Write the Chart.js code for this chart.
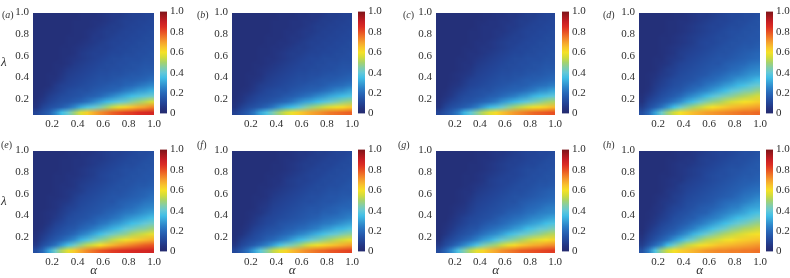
<!DOCTYPE html>
<html>
<head>
<meta charset="utf-8">
<script src="https://cdn.jsdelivr.net/npm/chart.js@4.4.0/dist/chart.umd.min.js"></script>
<style>
  body { margin: 0; background: #fff; width: 790px; height: 278px; overflow: hidden; position: relative;
         font-family: "Liberation Serif", serif; color: #333; }
  canvas { position: absolute; }
  .tag { position: absolute; font-size: 10px; line-height: 10px; white-space: nowrap; }
  .lam { position: absolute; font-size: 13px; line-height: 13px; font-style: italic; }
</style>
</head>
<body>
<script>
// grid cell centres (alpha across, lambda up), step 0.05
const alphaCenters = [0.075,0.125,0.175,0.225,0.275,0.325,0.375,0.425,0.475,0.525,0.575,0.625,0.675,0.725,0.775,0.825,0.875,0.925,0.975];
const lambdaCenters = [0.075,0.125,0.175,0.225,0.275,0.325,0.375,0.425,0.475,0.525,0.575,0.625,0.675,0.725,0.775,0.825,0.875,0.925,0.975];
const xTicks = [0.2, 0.4, 0.6, 0.8, 1.0];
const yTicks = [0.2, 0.4, 0.6, 0.8, 1.0];
const barTicks = [0, 0.2, 0.4, 0.6, 0.8, 1.0];
const panelNames = ['a', 'b', 'c', 'd', 'e', 'f', 'g', 'h'];

// values, one row per lambda (bottom row first)
const panelA = [
  [0.10,0.14,0.18,0.26,0.35,0.41,0.49,0.57,0.63,0.68,0.72,0.75,0.78,0.80,0.82,0.83,0.85,0.86,0.87],
  [0.05,0.10,0.13,0.15,0.17,0.21,0.26,0.32,0.37,0.40,0.44,0.49,0.54,0.58,0.62,0.65,0.68,0.70,0.73],
  [0.04,0.07,0.10,0.12,0.14,0.15,0.17,0.19,0.22,0.26,0.30,0.34,0.37,0.40,0.42,0.46,0.49,0.52,0.56],
  [0.03,0.05,0.08,0.10,0.12,0.13,0.14,0.15,0.17,0.18,0.20,0.23,0.26,0.29,0.32,0.35,0.37,0.39,0.41],
  [0.03,0.04,0.06,0.08,0.10,0.12,0.13,0.14,0.14,0.16,0.17,0.18,0.19,0.21,0.24,0.26,0.29,0.30,0.33],
  [0.03,0.03,0.04,0.07,0.09,0.10,0.11,0.12,0.13,0.14,0.15,0.16,0.17,0.17,0.19,0.20,0.22,0.24,0.26],
  [0.03,0.03,0.04,0.05,0.07,0.09,0.10,0.11,0.12,0.13,0.14,0.14,0.15,0.16,0.17,0.17,0.18,0.19,0.21],
  [0.03,0.03,0.04,0.04,0.06,0.08,0.09,0.10,0.11,0.12,0.13,0.13,0.14,0.14,0.15,0.16,0.16,0.17,0.18],
  [0.03,0.03,0.03,0.04,0.05,0.07,0.08,0.09,0.10,0.11,0.12,0.12,0.13,0.13,0.14,0.14,0.15,0.16,0.16],
  [0.03,0.03,0.03,0.04,0.04,0.05,0.07,0.08,0.09,0.10,0.11,0.12,0.12,0.13,0.13,0.14,0.14,0.15,0.15],
  [0.03,0.03,0.03,0.03,0.04,0.05,0.06,0.07,0.08,0.09,0.10,0.11,0.12,0.12,0.13,0.13,0.13,0.14,0.14],
  [0.03,0.03,0.03,0.03,0.04,0.04,0.05,0.07,0.08,0.09,0.09,0.10,0.11,0.11,0.12,0.12,0.13,0.13,0.14],
  [0.03,0.03,0.03,0.03,0.04,0.04,0.05,0.06,0.07,0.08,0.09,0.09,0.10,0.11,0.11,0.12,0.12,0.13,0.13],
  [0.03,0.03,0.03,0.03,0.03,0.04,0.04,0.05,0.06,0.07,0.08,0.09,0.10,0.10,0.11,0.11,0.12,0.12,0.13],
  [0.03,0.03,0.03,0.03,0.03,0.04,0.04,0.04,0.05,0.07,0.07,0.08,0.09,0.10,0.10,0.11,0.11,0.12,0.12],
  [0.03,0.03,0.03,0.03,0.03,0.03,0.04,0.04,0.05,0.06,0.07,0.08,0.08,0.09,0.10,0.10,0.11,0.11,0.12],
  [0.03,0.03,0.03,0.03,0.03,0.03,0.04,0.04,0.04,0.05,0.06,0.07,0.08,0.08,0.09,0.10,0.10,0.11,0.11],
  [0.03,0.03,0.03,0.03,0.03,0.03,0.04,0.04,0.04,0.05,0.05,0.06,0.07,0.08,0.09,0.09,0.10,0.10,0.11],
  [0.03,0.03,0.03,0.03,0.03,0.03,0.03,0.04,0.04,0.04,0.05,0.06,0.07,0.07,0.08,0.09,0.09,0.10,0.10]
];
const panelB = [
  [0.09,0.13,0.17,0.23,0.31,0.37,0.44,0.50,0.55,0.59,0.63,0.66,0.69,0.71,0.73,0.75,0.76,0.77,0.78],
  [0.05,0.09,0.12,0.14,0.16,0.19,0.23,0.28,0.32,0.35,0.39,0.44,0.48,0.51,0.54,0.57,0.59,0.61,0.64],
  [0.04,0.06,0.09,0.11,0.13,0.14,0.16,0.18,0.20,0.23,0.27,0.30,0.32,0.35,0.38,0.41,0.44,0.47,0.49],
  [0.03,0.05,0.07,0.09,0.11,0.12,0.13,0.14,0.16,0.17,0.19,0.21,0.23,0.26,0.28,0.31,0.33,0.35,0.37],
  [0.03,0.04,0.05,0.07,0.09,0.11,0.12,0.13,0.13,0.15,0.16,0.17,0.18,0.19,0.21,0.23,0.26,0.27,0.30],
  [0.03,0.03,0.04,0.06,0.08,0.09,0.10,0.11,0.12,0.13,0.14,0.15,0.16,0.16,0.17,0.19,0.20,0.21,0.23],
  [0.03,0.03,0.04,0.05,0.06,0.08,0.09,0.10,0.11,0.12,0.13,0.13,0.14,0.15,0.16,0.16,0.17,0.18,0.19],
  [0.03,0.03,0.04,0.04,0.05,0.07,0.08,0.09,0.10,0.11,0.12,0.12,0.13,0.13,0.14,0.15,0.15,0.16,0.17],
  [0.03,0.03,0.03,0.04,0.05,0.06,0.07,0.08,0.09,0.10,0.11,0.11,0.12,0.12,0.13,0.13,0.14,0.15,0.15],
  [0.03,0.03,0.03,0.04,0.04,0.05,0.06,0.07,0.08,0.09,0.10,0.11,0.11,0.12,0.12,0.13,0.13,0.14,0.14],
  [0.03,0.03,0.03,0.03,0.04,0.05,0.05,0.06,0.07,0.08,0.09,0.10,0.11,0.11,0.12,0.12,0.12,0.13,0.13],
  [0.03,0.03,0.03,0.03,0.04,0.04,0.05,0.06,0.07,0.08,0.08,0.09,0.10,0.10,0.11,0.11,0.12,0.12,0.13],
  [0.03,0.03,0.03,0.03,0.04,0.04,0.05,0.05,0.06,0.07,0.08,0.08,0.09,0.10,0.10,0.11,0.11,0.12,0.12],
  [0.03,0.03,0.03,0.03,0.03,0.04,0.04,0.05,0.05,0.06,0.07,0.08,0.09,0.09,0.10,0.10,0.11,0.11,0.12],
  [0.03,0.03,0.03,0.03,0.03,0.04,0.04,0.04,0.05,0.06,0.06,0.07,0.08,0.09,0.09,0.10,0.10,0.11,0.11],
  [0.03,0.03,0.03,0.03,0.03,0.03,0.04,0.04,0.05,0.05,0.06,0.07,0.07,0.08,0.09,0.09,0.10,0.10,0.11],
  [0.03,0.03,0.03,0.03,0.03,0.03,0.04,0.04,0.04,0.05,0.05,0.06,0.07,0.08,0.08,0.09,0.09,0.10,0.10],
  [0.03,0.03,0.03,0.03,0.03,0.03,0.04,0.04,0.04,0.05,0.05,0.06,0.06,0.07,0.08,0.08,0.09,0.09,0.10],
  [0.03,0.03,0.03,0.03,0.03,0.03,0.03,0.04,0.04,0.04,0.05,0.05,0.06,0.06,0.07,0.08,0.08,0.09,0.09]
];
const panelC = [
  [0.10,0.14,0.18,0.24,0.33,0.39,0.46,0.52,0.57,0.61,0.65,0.68,0.71,0.73,0.75,0.77,0.78,0.79,0.80],
  [0.05,0.10,0.13,0.15,0.17,0.20,0.24,0.29,0.34,0.37,0.41,0.46,0.50,0.53,0.56,0.59,0.61,0.63,0.66],
  [0.04,0.07,0.10,0.12,0.14,0.15,0.17,0.19,0.21,0.24,0.28,0.31,0.34,0.37,0.40,0.43,0.46,0.49,0.51],
  [0.03,0.05,0.07,0.10,0.12,0.13,0.14,0.15,0.17,0.18,0.20,0.22,0.24,0.27,0.29,0.33,0.35,0.37,0.39],
  [0.03,0.04,0.06,0.08,0.10,0.12,0.13,0.14,0.14,0.16,0.17,0.18,0.19,0.20,0.22,0.24,0.27,0.28,0.31],
  [0.03,0.03,0.05,0.06,0.08,0.10,0.11,0.12,0.13,0.14,0.15,0.16,0.17,0.17,0.18,0.20,0.21,0.22,0.24],
  [0.03,0.03,0.04,0.05,0.07,0.09,0.10,0.11,0.12,0.13,0.14,0.14,0.15,0.16,0.17,0.17,0.18,0.19,0.20],
  [0.03,0.03,0.04,0.05,0.06,0.07,0.09,0.10,0.11,0.12,0.13,0.13,0.14,0.14,0.15,0.16,0.16,0.17,0.18],
  [0.03,0.03,0.03,0.04,0.05,0.06,0.08,0.09,0.10,0.11,0.12,0.12,0.13,0.13,0.14,0.14,0.15,0.16,0.16],
  [0.03,0.03,0.03,0.04,0.05,0.05,0.07,0.08,0.09,0.10,0.11,0.12,0.12,0.13,0.13,0.14,0.14,0.15,0.15],
  [0.03,0.03,0.03,0.04,0.04,0.05,0.06,0.07,0.08,0.09,0.10,0.11,0.12,0.12,0.13,0.13,0.13,0.14,0.14],
  [0.03,0.03,0.03,0.03,0.04,0.05,0.05,0.06,0.07,0.08,0.09,0.10,0.11,0.11,0.12,0.12,0.13,0.13,0.14],
  [0.03,0.03,0.03,0.03,0.04,0.04,0.05,0.06,0.06,0.07,0.08,0.09,0.10,0.11,0.11,0.12,0.12,0.13,0.13],
  [0.03,0.03,0.03,0.03,0.03,0.04,0.05,0.05,0.06,0.07,0.08,0.09,0.09,0.10,0.11,0.11,0.12,0.12,0.13],
  [0.03,0.03,0.03,0.03,0.03,0.04,0.04,0.05,0.05,0.06,0.07,0.08,0.09,0.09,0.10,0.11,0.11,0.12,0.12],
  [0.03,0.03,0.03,0.03,0.03,0.04,0.04,0.05,0.05,0.06,0.06,0.07,0.08,0.09,0.10,0.10,0.11,0.11,0.12],
  [0.03,0.03,0.03,0.03,0.03,0.03,0.04,0.05,0.05,0.05,0.06,0.07,0.07,0.08,0.09,0.10,0.10,0.11,0.11],
  [0.03,0.03,0.03,0.03,0.03,0.03,0.04,0.04,0.05,0.05,0.06,0.06,0.07,0.08,0.08,0.09,0.10,0.10,0.11],
  [0.03,0.03,0.03,0.03,0.03,0.03,0.03,0.04,0.04,0.05,0.05,0.06,0.06,0.07,0.08,0.08,0.09,0.10,0.10]
];
const panelD = [
  [0.13,0.20,0.30,0.41,0.49,0.55,0.60,0.63,0.66,0.68,0.70,0.71,0.72,0.73,0.74,0.75,0.76,0.76,0.77],
  [0.08,0.13,0.17,0.22,0.28,0.35,0.41,0.46,0.50,0.53,0.57,0.60,0.62,0.64,0.66,0.67,0.68,0.69,0.70],
  [0.05,0.10,0.13,0.16,0.19,0.23,0.27,0.32,0.36,0.41,0.45,0.48,0.50,0.53,0.56,0.58,0.60,0.61,0.63],
  [0.04,0.07,0.10,0.13,0.15,0.17,0.20,0.24,0.27,0.30,0.34,0.38,0.41,0.44,0.46,0.49,0.51,0.53,0.55],
  [0.03,0.05,0.08,0.11,0.13,0.15,0.16,0.19,0.21,0.24,0.26,0.29,0.32,0.35,0.39,0.41,0.44,0.45,0.48],
  [0.03,0.04,0.07,0.09,0.11,0.13,0.14,0.16,0.18,0.19,0.22,0.24,0.26,0.29,0.31,0.34,0.36,0.39,0.41],
  [0.03,0.04,0.06,0.08,0.10,0.12,0.13,0.14,0.15,0.17,0.19,0.20,0.22,0.24,0.26,0.29,0.30,0.32,0.35],
  [0.03,0.04,0.05,0.07,0.08,0.10,0.12,0.13,0.14,0.15,0.16,0.18,0.19,0.21,0.23,0.24,0.26,0.28,0.29],
  [0.03,0.03,0.04,0.06,0.08,0.09,0.11,0.12,0.13,0.14,0.15,0.16,0.17,0.18,0.20,0.21,0.23,0.25,0.26],
  [0.03,0.03,0.04,0.05,0.06,0.08,0.10,0.11,0.12,0.13,0.14,0.15,0.15,0.17,0.18,0.19,0.20,0.22,0.23],
  [0.03,0.03,0.04,0.04,0.06,0.07,0.08,0.10,0.11,0.12,0.13,0.14,0.15,0.15,0.16,0.17,0.18,0.19,0.20],
  [0.03,0.03,0.03,0.04,0.05,0.06,0.08,0.09,0.10,0.11,0.12,0.13,0.14,0.14,0.15,0.16,0.17,0.18,0.19],
  [0.03,0.03,0.03,0.04,0.05,0.06,0.07,0.08,0.09,0.10,0.11,0.12,0.13,0.14,0.14,0.15,0.16,0.16,0.17],
  [0.03,0.03,0.03,0.04,0.04,0.05,0.06,0.07,0.08,0.10,0.11,0.11,0.12,0.13,0.14,0.14,0.15,0.15,0.16],
  [0.03,0.03,0.03,0.04,0.04,0.05,0.06,0.07,0.08,0.09,0.10,0.11,0.12,0.12,0.13,0.14,0.14,0.15,0.15],
  [0.03,0.03,0.03,0.03,0.04,0.04,0.05,0.06,0.07,0.08,0.09,0.10,0.11,0.12,0.13,0.13,0.14,0.14,0.15],
  [0.03,0.03,0.03,0.03,0.04,0.04,0.05,0.06,0.07,0.08,0.09,0.10,0.10,0.11,0.12,0.12,0.13,0.14,0.14],
  [0.03,0.03,0.03,0.03,0.04,0.04,0.05,0.05,0.06,0.07,0.08,0.09,0.10,0.10,0.11,0.12,0.12,0.13,0.14],
  [0.03,0.03,0.03,0.03,0.03,0.04,0.04,0.05,0.06,0.07,0.07,0.08,0.09,0.10,0.11,0.11,0.12,0.12,0.13]
];
const panelE = [
  [0.13,0.20,0.31,0.42,0.51,0.58,0.64,0.69,0.73,0.76,0.79,0.81,0.83,0.84,0.85,0.86,0.87,0.87,0.88],
  [0.07,0.13,0.17,0.22,0.29,0.36,0.42,0.48,0.53,0.56,0.60,0.64,0.67,0.70,0.72,0.74,0.76,0.78,0.79],
  [0.05,0.09,0.13,0.16,0.19,0.23,0.27,0.33,0.37,0.42,0.46,0.49,0.53,0.56,0.59,0.62,0.64,0.66,0.68],
  [0.04,0.07,0.10,0.13,0.15,0.17,0.20,0.24,0.27,0.31,0.35,0.39,0.42,0.45,0.47,0.51,0.53,0.55,0.58],
  [0.03,0.05,0.08,0.11,0.13,0.15,0.16,0.19,0.21,0.24,0.27,0.30,0.33,0.36,0.40,0.42,0.45,0.46,0.49],
  [0.03,0.04,0.06,0.09,0.11,0.13,0.14,0.16,0.18,0.19,0.22,0.24,0.27,0.29,0.32,0.35,0.37,0.40,0.42],
  [0.03,0.04,0.05,0.07,0.09,0.12,0.13,0.14,0.15,0.17,0.19,0.20,0.22,0.24,0.27,0.29,0.31,0.33,0.36],
  [0.03,0.04,0.05,0.06,0.08,0.10,0.12,0.13,0.14,0.15,0.16,0.18,0.19,0.21,0.23,0.24,0.26,0.28,0.30],
  [0.03,0.03,0.04,0.05,0.07,0.09,0.10,0.12,0.13,0.14,0.15,0.16,0.17,0.18,0.20,0.21,0.23,0.25,0.26],
  [0.03,0.03,0.04,0.05,0.06,0.07,0.09,0.11,0.12,0.13,0.14,0.15,0.15,0.17,0.18,0.19,0.20,0.22,0.23],
  [0.03,0.03,0.04,0.04,0.05,0.06,0.08,0.10,0.11,0.12,0.13,0.14,0.15,0.15,0.16,0.17,0.18,0.19,0.21],
  [0.03,0.03,0.03,0.04,0.05,0.06,0.07,0.08,0.10,0.11,0.12,0.13,0.14,0.14,0.15,0.16,0.17,0.18,0.19],
  [0.03,0.03,0.03,0.04,0.05,0.05,0.06,0.08,0.09,0.10,0.11,0.12,0.13,0.14,0.14,0.15,0.16,0.16,0.17],
  [0.03,0.03,0.03,0.04,0.04,0.05,0.06,0.07,0.08,0.09,0.10,0.11,0.12,0.13,0.14,0.14,0.15,0.15,0.16],
  [0.03,0.03,0.03,0.04,0.04,0.05,0.05,0.06,0.07,0.08,0.10,0.11,0.12,0.12,0.13,0.14,0.14,0.15,0.15],
  [0.03,0.03,0.03,0.03,0.04,0.04,0.05,0.06,0.07,0.08,0.09,0.10,0.11,0.12,0.13,0.13,0.14,0.14,0.15],
  [0.03,0.03,0.03,0.03,0.04,0.04,0.05,0.05,0.06,0.07,0.08,0.09,0.10,0.11,0.12,0.12,0.13,0.14,0.14],
  [0.03,0.03,0.03,0.03,0.04,0.04,0.05,0.05,0.06,0.07,0.07,0.08,0.09,0.10,0.11,0.12,0.12,0.13,0.14],
  [0.03,0.03,0.03,0.03,0.03,0.04,0.04,0.05,0.05,0.06,0.07,0.08,0.09,0.09,0.10,0.11,0.12,0.12,0.13]
];
const panelF = [
  [0.11,0.16,0.22,0.30,0.39,0.46,0.53,0.58,0.62,0.66,0.69,0.72,0.74,0.76,0.77,0.79,0.80,0.81,0.82],
  [0.06,0.11,0.14,0.17,0.21,0.25,0.30,0.36,0.41,0.44,0.48,0.53,0.57,0.59,0.62,0.64,0.66,0.68,0.70],
  [0.04,0.08,0.11,0.13,0.15,0.18,0.20,0.23,0.26,0.30,0.34,0.37,0.41,0.44,0.47,0.50,0.53,0.55,0.58],
  [0.03,0.05,0.08,0.11,0.13,0.15,0.16,0.18,0.20,0.22,0.25,0.27,0.30,0.33,0.36,0.39,0.41,0.44,0.46],
  [0.03,0.04,0.06,0.09,0.11,0.13,0.14,0.15,0.17,0.18,0.20,0.21,0.23,0.25,0.28,0.30,0.33,0.34,0.37],
  [0.03,0.03,0.05,0.07,0.09,0.11,0.12,0.14,0.15,0.16,0.17,0.18,0.20,0.21,0.23,0.24,0.26,0.28,0.30],
  [0.03,0.03,0.04,0.06,0.08,0.10,0.11,0.12,0.13,0.14,0.15,0.16,0.17,0.18,0.20,0.21,0.22,0.23,0.25],
  [0.03,0.03,0.04,0.05,0.06,0.08,0.10,0.11,0.12,0.13,0.14,0.15,0.16,0.16,0.18,0.18,0.19,0.21,0.22],
  [0.03,0.03,0.03,0.04,0.06,0.07,0.09,0.10,0.11,0.12,0.13,0.14,0.15,0.15,0.16,0.17,0.18,0.19,0.19],
  [0.03,0.03,0.03,0.04,0.05,0.06,0.08,0.09,0.10,0.11,0.12,0.13,0.13,0.14,0.15,0.15,0.16,0.17,0.18],
  [0.03,0.03,0.03,0.04,0.04,0.05,0.07,0.08,0.09,0.10,0.11,0.12,0.13,0.13,0.14,0.15,0.15,0.16,0.16],
  [0.03,0.03,0.03,0.03,0.04,0.05,0.06,0.07,0.08,0.09,0.10,0.11,0.12,0.12,0.13,0.14,0.14,0.15,0.15],
  [0.03,0.03,0.03,0.03,0.04,0.04,0.05,0.06,0.07,0.08,0.09,0.10,0.11,0.12,0.12,0.13,0.13,0.14,0.15],
  [0.03,0.03,0.03,0.03,0.03,0.04,0.05,0.05,0.07,0.08,0.09,0.09,0.10,0.11,0.12,0.12,0.13,0.13,0.14],
  [0.03,0.03,0.03,0.03,0.03,0.04,0.04,0.05,0.06,0.07,0.08,0.09,0.10,0.10,0.11,0.12,0.12,0.13,0.13],
  [0.03,0.03,0.03,0.03,0.03,0.03,0.04,0.04,0.05,0.06,0.07,0.08,0.09,0.10,0.10,0.11,0.12,0.12,0.13],
  [0.03,0.03,0.03,0.03,0.03,0.03,0.04,0.04,0.05,0.06,0.07,0.08,0.08,0.09,0.10,0.10,0.11,0.12,0.12],
  [0.03,0.03,0.03,0.03,0.03,0.03,0.03,0.04,0.05,0.05,0.06,0.07,0.08,0.08,0.09,0.10,0.10,0.11,0.12],
  [0.03,0.03,0.03,0.03,0.03,0.03,0.03,0.04,0.04,0.05,0.06,0.06,0.07,0.08,0.08,0.09,0.10,0.10,0.11]
];
const panelG = [
  [0.12,0.19,0.27,0.37,0.45,0.52,0.58,0.62,0.66,0.69,0.72,0.74,0.76,0.78,0.79,0.80,0.81,0.82,0.83],
  [0.07,0.12,0.16,0.21,0.26,0.31,0.37,0.43,0.47,0.50,0.54,0.58,0.61,0.64,0.66,0.68,0.69,0.71,0.72],
  [0.04,0.09,0.12,0.15,0.18,0.21,0.25,0.29,0.32,0.37,0.41,0.44,0.47,0.50,0.53,0.56,0.58,0.60,0.62],
  [0.03,0.06,0.09,0.12,0.14,0.16,0.19,0.22,0.25,0.27,0.30,0.34,0.37,0.40,0.42,0.45,0.47,0.50,0.52],
  [0.03,0.05,0.07,0.10,0.12,0.14,0.15,0.18,0.20,0.22,0.24,0.26,0.29,0.31,0.35,0.37,0.40,0.41,0.44],
  [0.03,0.04,0.06,0.08,0.10,0.12,0.13,0.15,0.17,0.18,0.20,0.22,0.24,0.26,0.28,0.30,0.32,0.35,0.37],
  [0.03,0.03,0.05,0.07,0.09,0.11,0.12,0.13,0.14,0.16,0.18,0.19,0.21,0.22,0.24,0.26,0.27,0.29,0.31],
  [0.03,0.03,0.04,0.06,0.07,0.09,0.11,0.12,0.13,0.14,0.15,0.17,0.18,0.19,0.21,0.22,0.24,0.25,0.26],
  [0.03,0.03,0.04,0.05,0.06,0.08,0.10,0.11,0.12,0.13,0.14,0.15,0.16,0.17,0.19,0.20,0.21,0.23,0.24],
  [0.03,0.03,0.03,0.04,0.05,0.07,0.09,0.10,0.11,0.12,0.13,0.14,0.14,0.16,0.17,0.18,0.19,0.20,0.21],
  [0.03,0.03,0.03,0.04,0.05,0.06,0.08,0.09,0.10,0.11,0.12,0.13,0.14,0.14,0.15,0.16,0.17,0.18,0.19],
  [0.03,0.03,0.03,0.04,0.05,0.05,0.07,0.08,0.09,0.10,0.11,0.12,0.13,0.13,0.14,0.15,0.16,0.17,0.18],
  [0.03,0.03,0.03,0.03,0.04,0.05,0.06,0.07,0.08,0.09,0.10,0.11,0.12,0.13,0.13,0.14,0.15,0.15,0.16],
  [0.03,0.03,0.03,0.03,0.04,0.04,0.05,0.06,0.08,0.09,0.10,0.10,0.11,0.12,0.13,0.13,0.14,0.14,0.15],
  [0.03,0.03,0.03,0.03,0.04,0.04,0.05,0.06,0.07,0.08,0.09,0.10,0.10,0.11,0.12,0.13,0.13,0.14,0.14],
  [0.03,0.03,0.03,0.03,0.03,0.04,0.04,0.05,0.06,0.07,0.08,0.09,0.10,0.11,0.12,0.12,0.13,0.13,0.14],
  [0.03,0.03,0.03,0.03,0.03,0.04,0.04,0.05,0.06,0.07,0.08,0.09,0.09,0.10,0.11,0.11,0.12,0.13,0.13],
  [0.03,0.03,0.03,0.03,0.03,0.03,0.04,0.05,0.05,0.06,0.07,0.08,0.09,0.09,0.10,0.11,0.11,0.12,0.13],
  [0.03,0.03,0.03,0.03,0.03,0.03,0.04,0.04,0.05,0.06,0.06,0.07,0.08,0.09,0.10,0.10,0.11,0.11,0.12]
];
const panelH = [
  [0.14,0.24,0.37,0.48,0.55,0.60,0.63,0.65,0.67,0.69,0.71,0.72,0.73,0.73,0.74,0.74,0.75,0.75,0.76],
  [0.08,0.14,0.20,0.26,0.35,0.42,0.48,0.53,0.56,0.59,0.61,0.63,0.65,0.66,0.67,0.68,0.69,0.70,0.71],
  [0.06,0.10,0.14,0.18,0.22,0.28,0.33,0.39,0.43,0.48,0.52,0.54,0.56,0.59,0.60,0.62,0.63,0.64,0.65],
  [0.04,0.08,0.11,0.14,0.17,0.20,0.24,0.28,0.33,0.37,0.41,0.45,0.48,0.51,0.53,0.55,0.57,0.59,0.60],
  [0.03,0.06,0.09,0.12,0.14,0.16,0.19,0.22,0.25,0.29,0.32,0.36,0.39,0.42,0.46,0.48,0.51,0.52,0.54],
  [0.03,0.05,0.07,0.10,0.12,0.14,0.16,0.18,0.21,0.23,0.26,0.29,0.32,0.35,0.38,0.41,0.43,0.46,0.48],
  [0.03,0.04,0.06,0.08,0.10,0.13,0.14,0.16,0.17,0.20,0.22,0.24,0.26,0.29,0.32,0.35,0.37,0.39,0.42],
  [0.03,0.04,0.05,0.07,0.09,0.11,0.13,0.14,0.16,0.17,0.18,0.21,0.23,0.25,0.27,0.29,0.31,0.34,0.36],
  [0.03,0.03,0.05,0.06,0.08,0.10,0.11,0.13,0.14,0.16,0.17,0.18,0.20,0.22,0.24,0.25,0.28,0.30,0.31],
  [0.03,0.03,0.04,0.06,0.07,0.08,0.10,0.12,0.13,0.14,0.15,0.16,0.18,0.20,0.21,0.22,0.24,0.26,0.28],
  [0.03,0.03,0.04,0.05,0.06,0.08,0.09,0.11,0.12,0.13,0.14,0.15,0.16,0.17,0.18,0.20,0.22,0.23,0.25],
  [0.03,0.03,0.03,0.04,0.06,0.07,0.08,0.10,0.11,0.12,0.13,0.14,0.15,0.16,0.17,0.18,0.20,0.21,0.22],
  [0.03,0.03,0.03,0.04,0.05,0.06,0.08,0.09,0.10,0.11,0.12,0.13,0.14,0.15,0.16,0.17,0.18,0.19,0.20],
  [0.03,0.03,0.03,0.04,0.05,0.06,0.06,0.08,0.09,0.10,0.11,0.12,0.13,0.14,0.15,0.16,0.17,0.17,0.18],
  [0.03,0.03,0.03,0.04,0.04,0.05,0.06,0.07,0.08,0.09,0.11,0.12,0.13,0.13,0.14,0.15,0.16,0.16,0.17],
  [0.03,0.03,0.03,0.03,0.04,0.05,0.06,0.07,0.08,0.09,0.10,0.11,0.12,0.13,0.14,0.14,0.15,0.16,0.16],
  [0.03,0.03,0.03,0.03,0.04,0.05,0.06,0.06,0.07,0.08,0.09,0.10,0.11,0.12,0.13,0.13,0.14,0.15,0.16],
  [0.03,0.03,0.03,0.03,0.04,0.04,0.05,0.06,0.06,0.08,0.09,0.09,0.10,0.11,0.12,0.13,0.13,0.14,0.15],
  [0.03,0.03,0.03,0.03,0.03,0.04,0.05,0.05,0.06,0.07,0.08,0.09,0.10,0.10,0.11,0.12,0.13,0.13,0.14]
];
const panels = [panelA, panelB, panelC, panelD, panelE, panelF, panelG, panelH];

// colour scale of the colour bars
const cmapStops = [0, 0.05, 0.1, 0.15, 0.2, 0.25, 0.3, 0.35, 0.4, 0.45, 0.5, 0.55, 0.6, 0.65, 0.7, 0.75, 0.8, 0.85, 0.9, 0.95, 1];
const cmapColors = [
  [36,42,110],[36,52,128],[35,68,150],[37,85,168],[40,105,185],[45,130,200],[55,160,215],[65,190,230],
  [100,200,215],[130,205,170],[165,210,110],[210,220,60],[245,225,40],[248,195,45],[245,160,45],
  [240,120,40],[232,80,35],[220,45,35],[200,30,35],[165,25,30],[125,20,25]
];

function rgbFor(v) {
  v = Math.max(0, Math.min(1, v));
  let k = 0;
  while (k < cmapStops.length - 2 && v > cmapStops[k + 1]) k++;
  const t = (v - cmapStops[k]) / (cmapStops[k + 1] - cmapStops[k]);
  const a = cmapColors[k], b = cmapColors[k + 1];
  return a.map((ch, n) => Math.round(ch + (b[n] - ch) * t));
}
function colorFor(v) {
  const c = rgbFor(v);
  return `rgb(${c[0]},${c[1]},${c[2]})`;
}

// page layout
const plotLeft = [33, 232, 436, 639];
const plotWidth = [123, 122, 121, 123];
const barLeft = [160, 358, 562, 766];
const barWidth = 7;
const plotTop = [10, 148];
const plotHeight = 105;
const tagPos = [[2, 10], [197, 10], [403, 10], [603, 10], [1, 140], [197, 140], [398, 140], [603, 140]];
const lamPos = [[1, 55], [1, 194]];

const textColor = '#2e2e2e';
const serif = '"Liberation Serif", "Times New Roman", serif';
const tickFont = { family: serif, size: 11 };
const fmt = v => v === 0 ? '0' : v.toFixed(1);

function addCanvas(left, top, w, h) {
  const c = document.createElement('canvas');
  c.width = w; c.height = h;
  c.style.left = left + 'px'; c.style.top = top + 'px';
  document.body.appendChild(c);
  return c;
}

panels.forEach((grid, p) => {
  const col = p % 4, row = Math.floor(p / 4);
  const L = plotLeft[col], W = plotWidth[col], T = plotTop[row], H = plotHeight;
  const axisW = 30, axisH = row === 0 ? 20 : 25;

  // small bitmap, one pixel per grid cell, top row = highest lambda
  const nx = alphaCenters.length, ny = lambdaCenters.length;
  const img = document.createElement('canvas');
  img.width = nx; img.height = ny;
  const ictx = img.getContext('2d');
  const id = ictx.createImageData(nx, ny);
  grid.forEach((vals, j) => vals.forEach((v, i) => {
    const c = rgbFor(v), o = ((ny - 1 - j) * nx + i) * 4;
    id.data[o] = c[0]; id.data[o + 1] = c[1]; id.data[o + 2] = c[2]; id.data[o + 3] = 255;
  }));
  ictx.putImageData(id, 0, 0);

  const heat = {
    id: 'heat' + p,
    beforeDatasetsDraw(chart) {
      const { ctx, chartArea: a, scales: { x, y } } = chart;
      ctx.save();
      ctx.beginPath();
      ctx.rect(a.left, a.top, a.right - a.left, a.bottom - a.top);
      ctx.clip();
      // cells
      grid.forEach((vals, j) => {
        const yb = Math.round(y.getPixelForValue(lambdaCenters[j] - 0.025));
        const yt = Math.round(y.getPixelForValue(lambdaCenters[j] + 0.025));
        vals.forEach((v, i) => {
          const xl = Math.round(x.getPixelForValue(alphaCenters[i] - 0.025));
          const xr = Math.round(x.getPixelForValue(alphaCenters[i] + 0.025));
          ctx.fillStyle = colorFor(v);
          ctx.fillRect(xl, yt, xr - xl, yb - yt);
        });
      });
      // shaded on top, same cell placement
      const x0 = x.getPixelForValue(alphaCenters[0] - 0.025);
      const x1 = x.getPixelForValue(alphaCenters[nx - 1] + 0.025);
      const y0 = y.getPixelForValue(lambdaCenters[ny - 1] + 0.025);
      const y1 = y.getPixelForValue(lambdaCenters[0] - 0.025);
      ctx.imageSmoothingEnabled = true;
      ctx.imageSmoothingQuality = 'low';
      ctx.drawImage(img, x0, y0, x1 - x0, y1 - y0);
      ctx.restore();
    }
  };

  const cv = addCanvas(L - axisW, T - 8, axisW + W + 8, 8 + H + axisH);
  new Chart(cv, {
    type: 'scatter',
    data: { datasets: [] },
    options: {
      responsive: false,
      animation: false,
      events: [],
      layout: { padding: { top: 8, right: 8, left: 0, bottom: 0 } },
      plugins: { legend: { display: false }, tooltip: { enabled: false } },
      scales: {
        x: {
          type: 'linear', min: 0.05, max: 1.0,
          grid: { display: false, drawTicks: false }, border: { display: false },
          afterBuildTicks: s => { s.ticks = xTicks.map(v => ({ value: v })); },
          afterFit: s => { s.height = axisH; },
          ticks: { font: tickFont, color: textColor, padding: 3, maxRotation: 0, autoSkip: false, callback: fmt },
          title: { display: row === 1, text: 'α', color: textColor, padding: 0,
                   font: { family: serif, size: 13, style: 'italic' } }
        },
        y: {
          type: 'linear', min: 0.05, max: 1.0,
          grid: { display: false, drawTicks: false }, border: { display: false },
          afterBuildTicks: s => { s.ticks = yTicks.map(v => ({ value: v })); },
          afterFit: s => { s.width = axisW; },
          ticks: { font: tickFont, color: textColor, padding: 4, autoSkip: false, callback: fmt }
        }
      }
    },
    plugins: [heat]
  });

  // colour bar
  const bar = {
    id: 'bar' + p,
    beforeDatasetsDraw(chart) {
      const { ctx, chartArea: a, scales: { y } } = chart;
      const y0 = y.getPixelForValue(0), y1 = y.getPixelForValue(1);
      const g = ctx.createLinearGradient(0, y0, 0, y1);
      cmapStops.forEach(s => g.addColorStop(s, colorFor(s)));
      ctx.save();
      ctx.fillStyle = g;
      ctx.fillRect(a.left, y1, a.right - a.left, y0 - y1);
      ctx.restore();
    }
  };
  const bc = addCanvas(barLeft[col], T - 8, barWidth + 26, H + 16);
  new Chart(bc, {
    type: 'scatter',
    data: { datasets: [] },
    options: {
      responsive: false,
      animation: false,
      events: [],
      layout: { padding: { top: 8, bottom: 8, left: 0, right: 0 } },
      plugins: { legend: { display: false }, tooltip: { enabled: false } },
      scales: {
        x: { type: 'linear', display: false, min: 0, max: 1 },
        y: {
          type: 'linear', position: 'right', min: 0, max: 1,
          grid: { display: false, drawTicks: false }, border: { display: false },
          afterBuildTicks: s => { s.ticks = barTicks.map(v => ({ value: v })); },
          afterFit: s => { s.width = 26; },
          ticks: { font: tickFont, color: textColor, padding: 3, autoSkip: false, callback: fmt }
        }
      }
    },
    plugins: [bar]
  });

  const tag = document.createElement('div');
  tag.className = 'tag';
  tag.style.left = tagPos[p][0] + 'px';
  tag.style.top = tagPos[p][1] + 'px';
  tag.innerHTML = '(<i>' + panelNames[p] + '</i>)';
  document.body.appendChild(tag);
});

lamPos.forEach(([x, y]) => {
  const d = document.createElement('div');
  d.className = 'lam';
  d.style.left = x + 'px';
  d.style.top = y + 'px';
  d.textContent = 'λ';
  document.body.appendChild(d);
});
</script>
</body>
</html>
